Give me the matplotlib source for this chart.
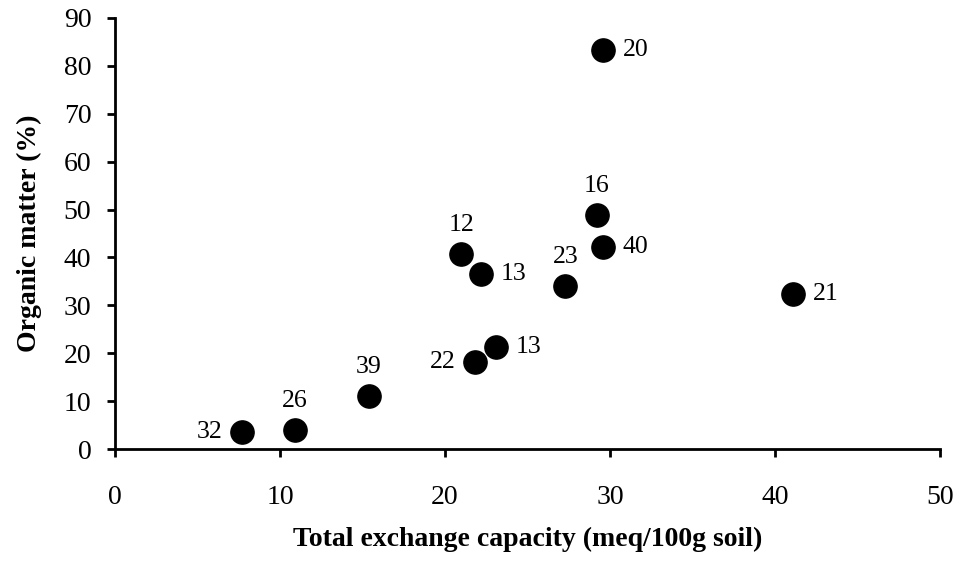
import matplotlib
matplotlib.use('Agg')
import matplotlib.pyplot as plt

# Total exchange capacity vs organic matter, labelled by sample value
tec = [7.7, 10.9, 15.4, 21.0, 22.2, 21.8, 23.1, 27.3, 29.2, 29.6, 29.6, 41.1]
om = [3.5, 4.0, 11.1, 40.7, 36.5, 18.1, 21.4, 34.1, 48.9, 42.2, 83.3, 32.4]
labels = ['32', '26', '39', '12', '13', '22', '13', '23', '16', '40', '20', '21']
# where each label sits relative to its point
where = ['left', 'above', 'above', 'above', 'right', 'left', 'right',
         'above', 'above', 'right', 'right', 'right']

plt.rcParams['font.family'] = ['Liberation Serif', 'DejaVu Serif']

fig = plt.figure(figsize=(9.64, 5.61), dpi=100)
ax = fig.add_axes([0.1193, 0.1996, 0.8557, 0.7684])

ax.scatter(tec, om, s=280, c='black', zorder=3)

offsets = {'left': (-14, 0, 'right', 'center'),
           'right': (14, 0, 'left', 'center'),
           'above': (0, 13, 'center', 'bottom')}
for x, y, t, w in zip(tec, om, labels, where):
    dx, dy, ha, va = offsets[w]
    ax.annotate(t, (x, y), xytext=(dx, dy), textcoords='offset points',
                ha=ha, va=va, fontsize=18.5)

ax.set_xlim(0, 50)
ax.set_ylim(0, 90)
ax.set_xticks(range(0, 51, 10))
ax.set_yticks(range(0, 91, 10))
for s in ['top', 'right']:
    ax.spines[s].set_visible(False)
for s in ['left', 'bottom']:
    ax.spines[s].set_linewidth(2)
ax.tick_params(direction='out', length=6, width=2, labelsize=20)
ax.tick_params(axis='x', pad=20)
ax.tick_params(axis='y', pad=11)

ax.set_xlabel('Total exchange capacity (meq/100g soil)', fontsize=20,
              fontweight='bold', labelpad=12)
ax.set_ylabel('Organic matter (%)', fontsize=20, fontweight='bold', labelpad=16)

fig.savefig('out.png', dpi=100)
